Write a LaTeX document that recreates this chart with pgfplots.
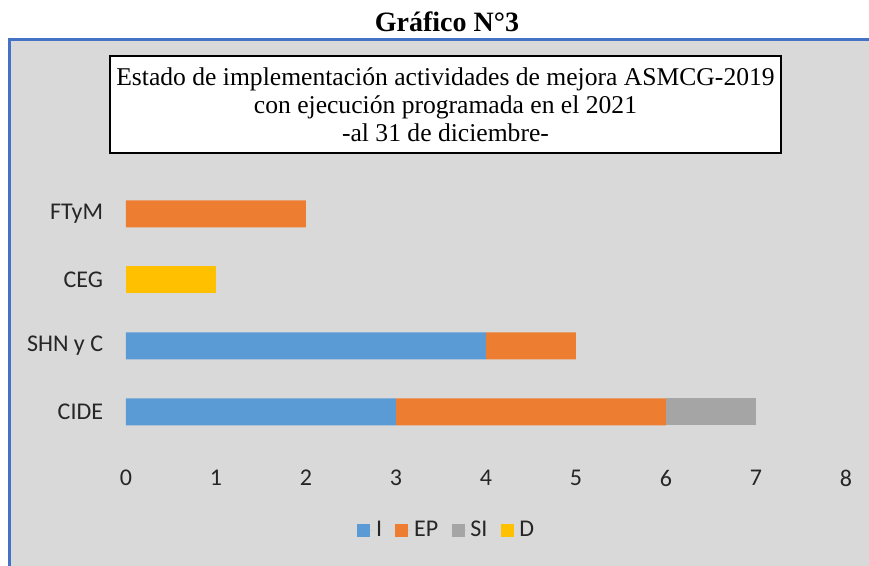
\documentclass[border=0pt]{standalone}
\usepackage{fontspec}
\setmainfont{Carlito}
\newfontfamily\seriffont{Liberation Serif}
\usepackage{pgfplots}
\pgfplotsset{compat=1.18}
\definecolor{cI}{HTML}{5B9BD5}
\definecolor{cEP}{HTML}{ED7D31}
\definecolor{cSI}{HTML}{A5A5A5}
\definecolor{cD}{HTML}{FFC000}
\definecolor{bg}{HTML}{D9D9D9}
\definecolor{frameblue}{HTML}{4472C4}
\begin{document}
\begin{tikzpicture}
\useasboundingbox (0,0) rectangle (651.75pt,-424.5pt);
\fill[white] (0,0) rectangle (651.75pt,-424.5pt);
\fill[bg] (6pt,-29.25pt) rectangle (651.75pt,-424.5pt);
\draw[frameblue, line width=2.25pt] (6pt,-30pt) -- (651.75pt,-30pt);
\draw[frameblue, line width=2.25pt] (7.1pt,-30pt) -- (7.1pt,-424.5pt);
\node[font=\seriffont\bfseries\fontsize{21}{24}\selectfont] at (335.25pt,-16.5pt) {Gráfico N°3};
\draw[black, line width=1.5pt, fill=white] (82.5pt,-42pt) rectangle (585.75pt,-114.75pt);
\node[font=\seriffont\fontsize{19.2}{21}\selectfont, align=center] at (334.1pt,-78.4pt)
  {Estado de implementación actividades de mejora ASMCG-2019\\con ejecución programada en el 2021\\-al 31 de diciembre-};
\begin{axis}[
  at={(94.5pt,-358.5pt)}, anchor=south west,
  width=540pt, height=247.5pt, scale only axis,
  xbar stacked, bar width=20.25pt,
  xmin=0, xmax=8, ymin=-1, ymax=4,
  xtick={0,1,2,3,4,5,6,7,8},
  ytick={0,1,2,3},
  yticklabels={CIDE,SHN y C,CEG,FTyM},
  axis line style={draw=none},
  major tick length=0pt,
  /pgf/number format/assume math mode=true,
  xticklabel style={anchor=center, inner sep=0pt, font=\fontsize{18}{21}\selectfont, text=black!85},
  yticklabel style={anchor=east, inner sep=0pt, xshift=-17pt, font=\fontsize{18}{21}\selectfont, text=black!85},
  legend style={at={(0.446,-0.158)}, anchor=center, draw=none, fill=none,
    legend columns=-1, font=\fontsize{18}{21}\selectfont, text=black!85,
    /tikz/every even column/.append style={column sep=8pt}},
  legend image code/.code={\fill[#1] (0pt,-4.9pt) rectangle (9.75pt,4.9pt); \path (0pt,0pt) -- (12pt,0pt);},
]
\addplot[fill=cI, draw=none] coordinates {(3,0) (4,1) (0,2) (0,3)};
\addplot[fill=cEP, draw=none] coordinates {(3,0) (1,1) (0,2) (2,3)};
\addplot[fill=cSI, draw=none] coordinates {(1,0) (0,1) (0,2) (0,3)};
\addplot[fill=cD, draw=none] coordinates {(0,0) (0,1) (1,2) (0,3)};
\legend{I,EP,SI,D}
\end{axis}
\end{tikzpicture}
\end{document}
